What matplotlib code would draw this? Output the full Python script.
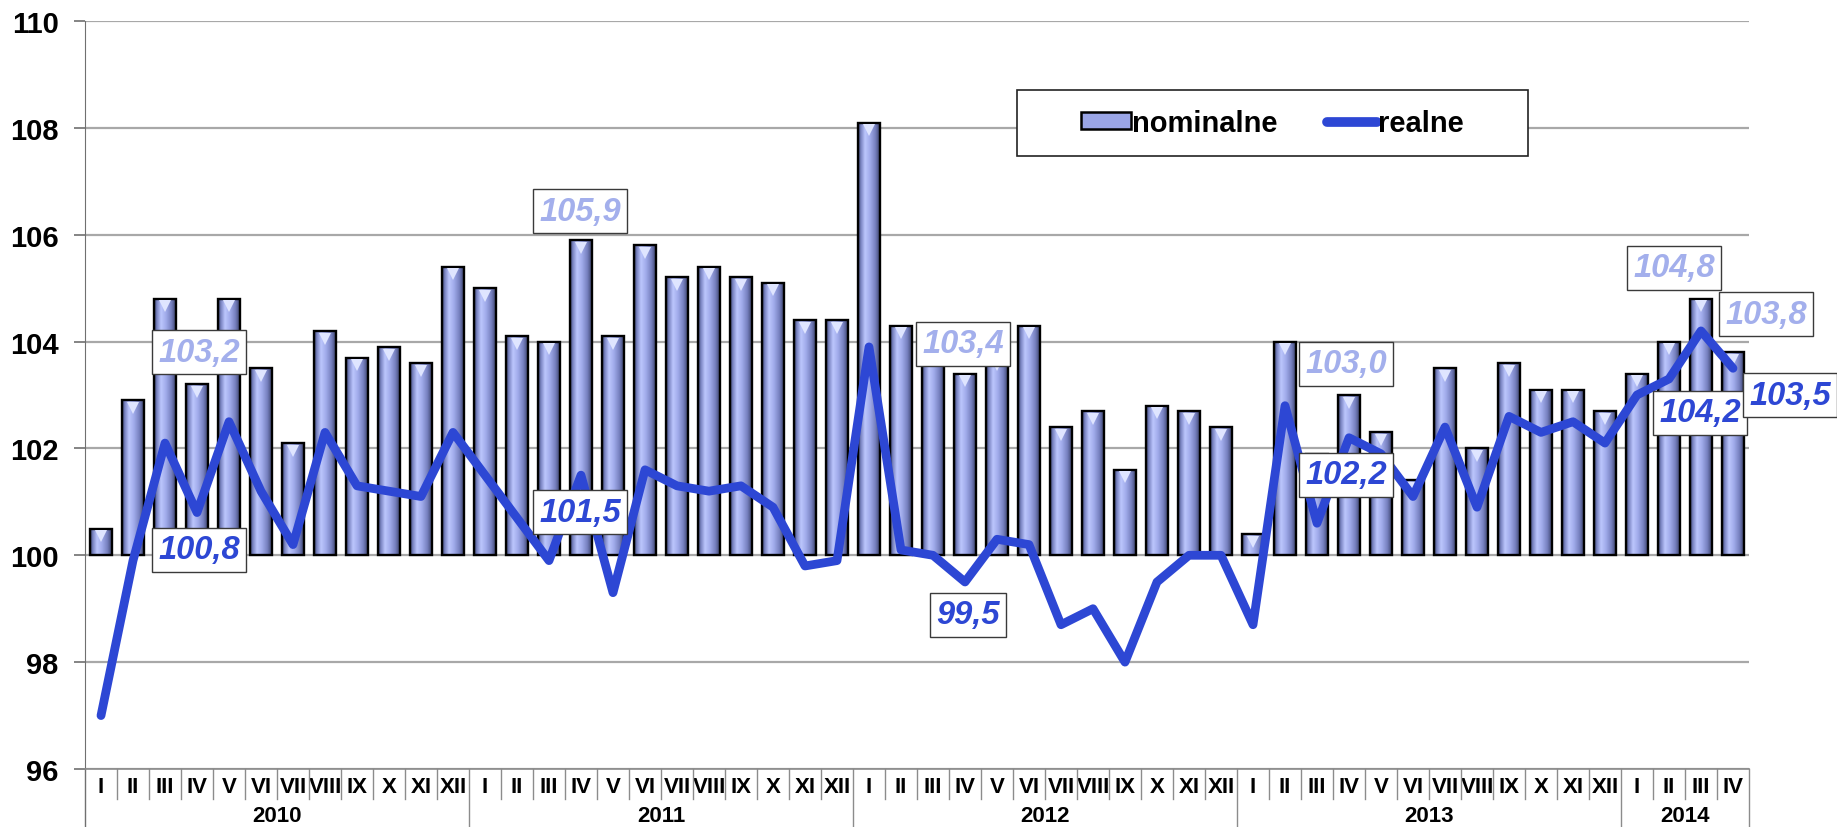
import numpy as np
import matplotlib
matplotlib.use('Agg')
import matplotlib.pyplot as plt
from matplotlib.colors import LinearSegmentedColormap
from matplotlib.patches import Patch, Rectangle
from matplotlib.lines import Line2D
import matplotlib.transforms as mtransforms

plt.rcParams['font.family'] = ['Liberation Sans', 'DejaVu Sans']

# ---------------- data ----------------
month_labels = ['I', 'II', 'III', 'IV', 'V', 'VI', 'VII', 'VIII', 'IX', 'X', 'XI', 'XII'] * 4 + ['I', 'II', 'III', 'IV']
years = ['2010', '2011', '2012', '2013', '2014']
year_lengths = [12, 12, 12, 12, 4]

nominal = [100.5, 102.9, 104.8, 103.2, 104.8, 103.5, 102.1, 104.2, 103.7, 103.9, 103.6, 105.4,
           105.0, 104.1, 104.0, 105.9, 104.1, 105.8, 105.2, 105.4, 105.2, 105.1, 104.4, 104.4,
           108.1, 104.3, 103.9, 103.4, 103.7, 104.3, 102.4, 102.7, 101.6, 102.8, 102.7, 102.4,
           100.4, 104.0, 101.9, 103.0, 102.3, 101.4, 103.5, 102.0, 103.6, 103.1, 103.1, 102.7,
           103.4, 104.0, 104.8, 103.8]
real = [97.0, 99.9, 102.1, 100.8, 102.5, 101.2, 100.2, 102.3, 101.3, 101.2, 101.1, 102.3,
        101.5, 100.7, 99.9, 101.5, 99.3, 101.6, 101.3, 101.2, 101.3, 100.9, 99.8, 99.9,
        103.9, 100.1, 100.0, 99.5, 100.3, 100.2, 98.7, 99.0, 98.0, 99.5, 100.0, 100.0,
        98.7, 102.8, 100.6, 102.2, 101.9, 101.1, 102.4, 100.9, 102.6, 102.3, 102.5, 102.1,
        103.0, 103.3, 104.2, 103.5]

series_names = ['nominalne', 'realne']
base = 100
yticks = [96, 98, 100, 102, 104, 106, 108, 110]

# labelled points: (series, index, dx_px, dy_px)  (dy positive = up)
labelled = [('nominal', 3, 2, 32), ('real', 3, 2, -37),
            ('nominal', 15, -1, 29), ('real', 15, -1, -37),
            ('nominal', 27, -2, 30), ('real', 27, 3, -33),
            ('nominal', 39, -3, 31), ('real', 39, -3, -37),
            ('nominal', 50, -27, 31), ('nominal', 51, 33, 38),
            ('real', 50, -1, -82), ('real', 51, 57, -27)]

# ---------------- styling ----------------
W, H, DPI = 1837, 828, 100
LINE_C = '#2d47d4'
NOM_TXT = '#a3afec'
GRID_C = '#a8a8a8'
SEP_C = '#8c8c8c'

fig = plt.figure(figsize=(W / DPI, H / DPI), dpi=DPI)
ax_left, ax_right, ax_top, ax_bottom = 85, 1749, 22, 770
ax = fig.add_axes([ax_left / W, 1 - ax_bottom / H, (ax_right - ax_left) / W, (ax_bottom - ax_top) / H])
ax_h_px = ax_bottom - ax_top

n = len(nominal)
x = np.arange(n)

# bars
bar_heights = np.array(nominal) - base
bars = ax.bar(x, bar_heights, bottom=base, width=0.66, facecolor='none',
              edgecolor='black', linewidth=1.7, zorder=3)

cmap = LinearSegmentedColormap.from_list('cyl', [
    (0.0, '#343a5e'), (0.12, '#7882c0'), (0.32, '#bcc6fd'), (0.55, '#a0abea'),
    (0.8, '#7680bf'), (1.0, '#3e456e')])
grad = np.linspace(0, 1, 64).reshape(1, -1)
for p in bars.patches:
    x0, y0 = p.get_x(), p.get_y()
    im = ax.imshow(grad, extent=[x0, x0 + p.get_width(), y0, y0 + p.get_height()],
                   aspect='auto', cmap=cmap, zorder=2.5, interpolation='bilinear')
    im.set_clip_path(p)

# little bevel triangles at top of bars
tri_tr = ax.transData + mtransforms.ScaledTranslation(0, -5.5 / 72, fig.dpi_scale_trans)
ax.plot(x, nominal, linestyle='none', marker='v', markersize=9, color='#dfe5ff',
        markeredgewidth=0, transform=tri_tr, zorder=3.5)

# line
ax.plot(x, real, color=LINE_C, linewidth=6.3, solid_joinstyle='round',
        solid_capstyle='round', zorder=4)

ax.set_xlim(-0.5, n - 0.5)
ax.set_ylim(yticks[0], yticks[-1])

# grid & spines
ax.set_yticks(yticks)
ax.set_yticklabels([str(v) for v in yticks], fontsize=21, fontweight='bold')
ax.yaxis.grid(True, color=GRID_C, linewidth=1.6)
ax.set_axisbelow(True)
for s in ['top', 'right']:
    ax.spines[s].set_visible(False)
ax.spines['left'].set_color('#707070')
ax.spines['bottom'].set_color('#8a8a8a')
ax.spines['bottom'].set_linewidth(1.2)
ax.tick_params(axis='y', length=8, width=1.2, color='#707070', pad=11)

# month tick labels
ax.set_xticks(x)
ax.set_xticklabels(month_labels, fontsize=16, fontweight='bold')
ax.tick_params(axis='x', length=0, pad=5)

# separators under axis
blend = mtransforms.blended_transform_factory(ax.transData, ax.transAxes)
month_sep_y = -30 / ax_h_px
year_sep_y = -(H - ax_bottom) / ax_h_px
year_bounds = np.cumsum([0] + year_lengths)
for b in range(1, n):
    if b in year_bounds:
        continue
    ax.add_line(Line2D([b - 0.5, b - 0.5], [0, month_sep_y], transform=blend,
                       color=SEP_C, linewidth=1.0, clip_on=False))
for b in year_bounds:
    ax.add_line(Line2D([b - 0.5, b - 0.5], [0, year_sep_y], transform=blend,
                       color=SEP_C if b > 0 else '#707070', linewidth=1.0, clip_on=False))

# year labels
for i, yr in enumerate(years):
    c = (year_bounds[i] + year_bounds[i + 1] - 1) / 2
    ax.text(c, -47 / ax_h_px, yr, transform=blend, ha='center', va='center',
            fontsize=16, fontweight='bold')

# data labels
for ser, idx, dx, dy in labelled:
    val = nominal[idx] if ser == 'nominal' else real[idx]
    col = NOM_TXT if ser == 'nominal' else LINE_C
    txt = f'{val:.1f}'.replace('.', ',')
    ax.annotate(txt, xy=(idx, val), xytext=(dx * 0.72, dy * 0.72), textcoords='offset points',
                ha='center', va='center', fontsize=23.5, fontweight='bold', fontstyle='italic',
                color=col, zorder=6, annotation_clip=False,
                bbox=dict(boxstyle='square,pad=0.2', facecolor='white', edgecolor='#3a3a3a',
                          linewidth=1.0))

# legend with manual frame
lx0, lx1, ly0, ly1 = 1017, 1528, 91, 157
fig.add_artist(Rectangle((lx0 / W, 1 - ly1 / H), (lx1 - lx0) / W, (ly1 - ly0) / H,
                         transform=fig.transFigure, facecolor='white', edgecolor='#222222',
                         linewidth=1.2, zorder=4))
handles = [Patch(facecolor='#9aa5e6', edgecolor='black', linewidth=1.8),
           Line2D([], [], color=LINE_C, linewidth=7, solid_capstyle='round')]
leg = fig.legend(handles, series_names, loc='center',
                 bbox_to_anchor=((lx0 + lx1) / 2 / W, 1 - (ly0 + ly1) / 2 / H),
                 ncol=2, frameon=False, handlelength=1.7, handleheight=0.5,
                 handletextpad=0.05, columnspacing=1.7,
                 prop={'size': 21, 'weight': 'bold'})
leg.set_zorder(5)

fig.savefig('out.png', dpi=DPI, facecolor='white')
